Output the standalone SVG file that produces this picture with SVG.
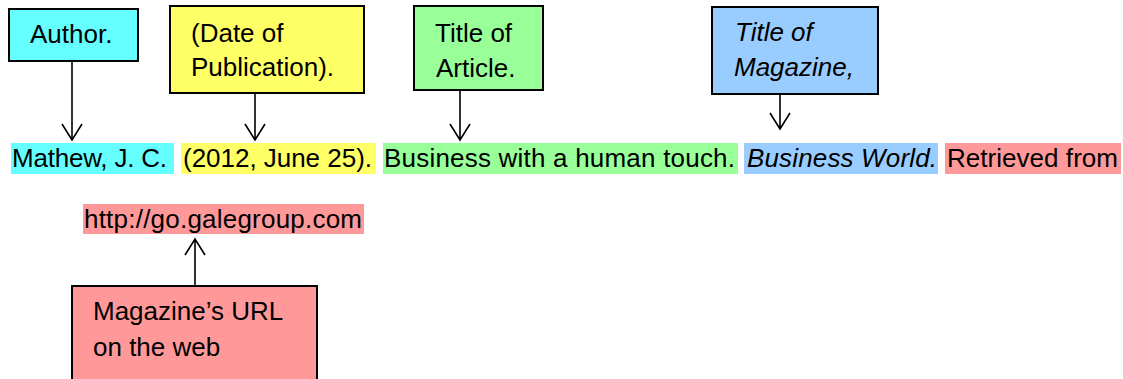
<svg xmlns="http://www.w3.org/2000/svg" width="1123" height="379" viewBox="0 0 1123 379">
<style>
text{font-family:"Liberation Sans",Arial,sans-serif;font-size:26px;fill:#000}
.box{stroke:#000;stroke-width:2}
.it{font-style:italic}
.con{fill:none;stroke:#000;stroke-width:1.6}
.cyan{fill:#66FFFF}.yel{fill:#FFFF66}.grn{fill:#99FF99}.blu{fill:#99CCFF}.red{fill:#FF9999}
</style>
<rect width="1123" height="379" fill="#fff"/>
<g id="citation">
<rect class="cyan" x="11" y="143" width="163" height="31"/>
<text x="12" y="167" textLength="155">Mathew, J. C.</text>
<rect class="yel" x="181" y="143" width="195" height="31"/>
<text x="183" y="167" textLength="189">(2012, June 25).</text>
<rect class="grn" x="383" y="143" width="355" height="31"/>
<text x="384" y="167" textLength="351">Business with a human touch.</text>
<rect class="blu" x="744" y="143" width="194" height="31"/>
<text class="it" x="747" y="167" textLength="190">Business World.</text>
<rect class="red" x="945" y="143" width="176" height="31"/>
<text x="947" y="167" textLength="171">Retrieved from</text>
</g>
<g id="url">
<rect class="red" x="83" y="204" width="281" height="30"/>
<text x="84" y="228" textLength="278">http://go.galegroup.com</text>
</g>
<g id="author">
<rect class="box cyan" x="9" y="9" width="129" height="52"/>
<text x="30" y="43">Author.</text>
</g>
<g id="date">
<rect class="box yel" x="170" y="6" width="194" height="87"/>
<text x="191" y="42">(Date of</text>
<text x="191" y="76">Publication).</text>
</g>
<g id="article">
<rect class="box grn" x="414" y="6" width="129" height="84"/>
<text x="435" y="42">Title of</text>
<text x="436" y="77">Article.</text>
</g>
<g id="magazine">
<rect class="box blu" x="712" y="7" width="166" height="87"/>
<text class="it" x="735" y="41">Title of</text>
<text class="it" x="734" y="76">Magazine,</text>
</g>
<g id="urlbox">
<rect class="box red" x="72" y="286" width="245" height="100"/>
<text x="93" y="320">Magazine’s URL</text>
<text x="93" y="356">on the web</text>
</g>
<g id="connectors">
<path class="con" d="M72 61V140M62 124L72 140L82 124"/>
<path class="con" d="M255 93V140M245 124L255 140L265 124"/>
<path class="con" d="M460 90V140M450 124L460 140L470 124"/>
<path class="con" d="M780 94V129M770 113L780 129L790 113"/>
<path class="con" d="M195 286V239M185 255L195 239L205 255"/>
</g>
</svg>
